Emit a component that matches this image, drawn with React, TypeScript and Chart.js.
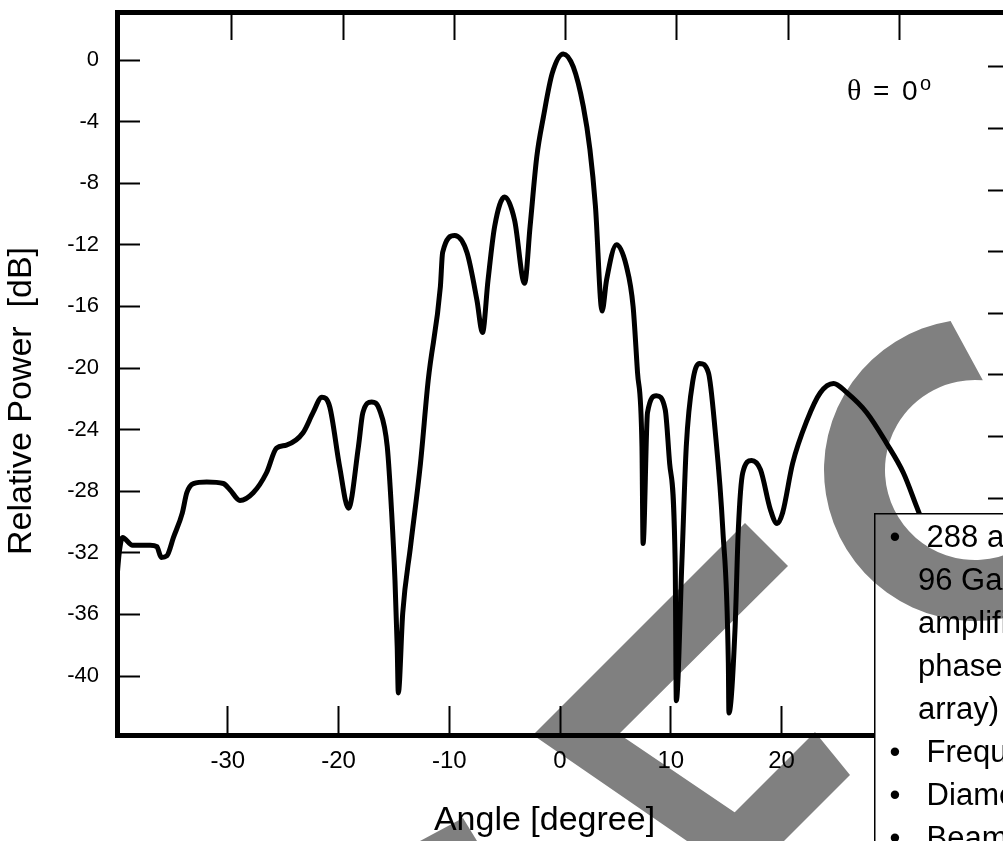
import React, { useEffect, useRef } from "react";
import { Chart, registerables } from "chart.js";

Chart.register(...registerables);

// ---- data ----
const angleDeg = [
  -40.0, -39.8, -39.5, -38.6, -37.0, -36.4, -36.0, -35.5, -34.9, -34.1,
  -33.7, -33.1, -31.9, -30.4, -29.8, -28.9, -27.7, -26.5, -25.6, -24.7,
  -23.2, -22.3, -21.5, -20.8, -19.9, -19.1, -18.2, -17.8, -17.0, -16.3,
  -15.6, -15.2, -14.9, -14.7, -14.6, -14.2, -13.5, -12.6, -11.9, -10.8,
  -10.6, -9.5, -8.4, -7.5, -7.0, -6.5, -5.9, -5.0, -4.1, -3.2,
  -2.7, -2.1, -1.5, -0.7, 0.3, 1.2, 2.1, 2.7, 3.2, 3.8,
  4.2, 5.1, 6.0, 6.6, 7.0, 7.4, 7.5, 7.9, 8.7, 9.5,
  9.9, 10.4, 10.5, 11.0, 11.4, 12.0, 12.6, 13.4, 14.0, 14.7,
  15.2, 15.25, 15.8, 16.1, 16.5, 17.3, 18.1, 19.0, 19.6, 20.1,
  21.0, 22.3, 23.5, 24.7, 25.9, 27.7, 29.5, 31.0, 32.2, 33.0,
];

const relPowerDb = [
  -33.6, -32.0, -31.0, -31.5, -31.5, -31.6, -32.3, -32.2, -31.0, -29.4,
  -28.1, -27.5, -27.4, -27.5, -27.9, -28.6, -28.1, -26.8, -25.2, -25.0,
  -24.2, -22.9, -21.9, -22.5, -26.4, -29.1, -25.1, -22.9, -22.2, -22.7,
  -25.1, -29.4, -33.8, -38.1, -41.1, -35.9, -31.6, -26.2, -20.8, -14.7,
  -12.5, -11.4, -12.5, -15.6, -17.7, -14.3, -10.8, -8.9, -10.4, -14.5,
  -10.8, -6.3, -3.7, -0.85, 0.4, -0.45, -3.0, -5.8, -9.5, -16.3,
  -14.3, -12.0, -13.4, -16.0, -20.3, -25.1, -31.4, -22.9, -21.8, -22.7,
  -26.2, -32.7, -41.6, -32.7, -25.1, -20.8, -19.7, -20.3, -24.0, -30.5,
  -39.2, -42.4, -37.0, -30.5, -26.8, -26.0, -26.6, -29.2, -30.1, -29.4,
  -26.2, -23.4, -21.6, -21.0, -21.6, -22.9, -24.9, -26.8, -29.0, -30.5,
];

const xTickValues = [-30, -20, -10, 0, 10, 20, 30];
const yTickValues = [0, -4, -8, -12, -16, -20, -24, -28, -32, -36, -40];

const yTitle = "Relative Power  [dB]";
const xTitle = "Angle [degree]";
const thetaSymbol = "\u03B8";
const thetaValue = "0";

const boxLines = [
  { bullet: true, text: " 288 active elements with" },
  { bullet: false, text: "96 GaAs MMIC power" },
  { bullet: false, text: "amplifiers and MMIC" },
  { bullet: false, text: "phase shifters (sub-" },
  { bullet: false, text: "array)" },
  { bullet: true, text: " Frequency: 19.45 GHz" },
  { bullet: true, text: " Diameter: 1 m" },
  { bullet: true, text: " Beam scanning" },
];

const W = 1025;
const H = 841;
const FONT = '"Liberation Sans", Arial, Helvetica, sans-serif';

const overlayPlugin = {
  id: "overlay",
  beforeDraw(chart: any) {
    const ctx = chart.ctx;
    ctx.save();
    ctx.fillStyle = "#ffffff";
    ctx.fillRect(0, 0, chart.width, chart.height);
    ctx.restore();
  },
  afterDraw(chart: any) {
    const ctx: CanvasRenderingContext2D = chart.ctx;
    ctx.save();
    ctx.fillStyle = "#000";

    // y axis title
    ctx.save();
    ctx.font = `34px ${FONT}`;
    ctx.textAlign = "center";
    ctx.textBaseline = "middle";
    ctx.translate(21.5, 401);
    ctx.rotate(-Math.PI / 2);
    ctx.fillText(yTitle, 0, 0);
    ctx.restore();

    // x axis title
    ctx.font = `34px ${FONT}`;
    ctx.textAlign = "center";
    ctx.textBaseline = "alphabetic";
    ctx.fillText(xTitle, 544.5, 830);

    // theta annotation
    ctx.textAlign = "left";
    ctx.font = `30px "Liberation Serif", "Times New Roman", serif`;
    ctx.fillText(thetaSymbol, 847, 100);
    ctx.font = `28px ${FONT}`;
    ctx.fillText("=", 873, 100);
    ctx.fillText(thetaValue, 902, 100);
    ctx.font = `20px ${FONT}`;
    ctx.fillText("o", 920, 90);

    // text box
    ctx.fillStyle = "#fff";
    ctx.fillRect(874, 513, W, H);
    ctx.strokeStyle = "#000";
    ctx.lineWidth = 1.5;
    ctx.strokeRect(874.75, 513.75, W, H);
    ctx.fillStyle = "#000";
    ctx.font = `31px ${FONT}`;
    boxLines.forEach((ln, i) => {
      const y = 547 + i * 43;
      if (ln.bullet) {
        ctx.textAlign = "center";
        ctx.fillText("\u2022", 895, y);
      }
      ctx.textAlign = "left";
      ctx.fillText(ln.text, 918, y);
    });

    // grey watermark shapes (multiplied over everything)
    const off = document.createElement("canvas");
    off.width = chart.width;
    off.height = chart.height;
    const o = off.getContext("2d")!;
    o.fillStyle = "#808080";
    const d = Math.PI / 180;
    const cx = 975, cy = 470, R = 151, r = 90;
    o.beginPath();
    o.arc(cx, cy, R, -99.3 * d, 30 * d, true);
    o.arc(cx, cy, r, 30 * d, -85 * d, false);
    o.closePath();
    o.fill();
    const polys = [
      [[745, 523], [788, 566], [619, 734], [777, 841], [687, 841], [533, 735]],
      [[815, 732], [850, 775], [784, 841], [706, 841]],
      [[463, 818], [477, 841], [420, 841]],
    ];
    polys.forEach((p) => {
      o.beginPath();
      o.moveTo(p[0][0], p[0][1]);
      for (let k = 1; k < p.length; k++) o.lineTo(p[k][0], p[k][1]);
      o.closePath();
      o.fill();
    });
    ctx.globalCompositeOperation = "multiply";
    ctx.drawImage(off, 0, 0);
    ctx.restore();
  },
};

const noPad = (s: any) => {
  s.paddingTop = 0;
  s.paddingBottom = 0;
  s.paddingLeft = 0;
  s.paddingRight = 0;
};

export default function App() {
  const ref = useRef<HTMLCanvasElement | null>(null);

  useEffect(() => {
    if (!ref.current) return;
    const points = angleDeg.map((a, i) => ({ x: a, y: relPowerDb[i] }));
    const tickGrid = (len: number) => ({
      display: true,
      drawOnChartArea: false,
      drawTicks: true,
      tickLength: len,
      tickWidth: 2,
      tickColor: "#000",
    });
    const border = { display: true, width: 5, color: "#000" };
    const chart = new Chart(ref.current, {
      type: "line",
      data: {
        datasets: [
          {
            data: points,
            xAxisID: "x",
            yAxisID: "y",
            borderColor: "#000",
            borderWidth: 5,
            pointRadius: 0,
            fill: false,
            cubicInterpolationMode: "monotone",
          } as any,
        ],
      },
      options: {
        animation: false,
        responsive: false,
        devicePixelRatio: 1,
        layout: { padding: 0 },
        plugins: { legend: { display: false }, tooltip: { enabled: false } },
        scales: {
          x: {
            type: "linear",
            axis: "x",
            position: "bottom",
            min: -40,
            max: 40.36,
            afterBuildTicks: (s: any) => {
              s.ticks = xTickValues.map((v) => ({ value: v }));
            },
            afterFit: (s: any) => {
              s.height = H - 735;
              noPad(s);
            },
            border,
            grid: tickGrid(-29),
            ticks: {
              padding: 41,
              color: "#000",
              autoSkip: false,
              maxRotation: 0,
              minRotation: 0,
              font: { family: FONT, size: 24 },
              callback: (v: any) => String(v),
            },
          },
          xTop: {
            type: "linear",
            axis: "x",
            position: "top",
            min: -40.31,
            max: 39.66,
            afterBuildTicks: (s: any) => {
              s.ticks = xTickValues.map((v) => ({ value: v }));
            },
            afterFit: (s: any) => {
              s.height = 12;
              noPad(s);
            },
            border,
            grid: tickGrid(-28),
            ticks: { display: false },
          },
          y: {
            type: "linear",
            axis: "y",
            position: "left",
            min: -43.83,
            max: 3.12,
            afterBuildTicks: (s: any) => {
              s.ticks = yTickValues.map((v) => ({ value: v }));
            },
            afterFit: (s: any) => {
              s.width = 117;
              noPad(s);
            },
            border,
            grid: tickGrid(-23),
            ticks: {
              padding: 41,
              color: "#000",
              autoSkip: false,
              font: { family: FONT, size: 22 },
              callback: (v: any) => String(v),
            },
          },
          yRight: {
            type: "linear",
            axis: "y",
            position: "right",
            min: -43.38,
            max: 3.57,
            afterBuildTicks: (s: any) => {
              s.ticks = yTickValues.map((v) => ({ value: v }));
            },
            afterFit: (s: any) => {
              s.width = W - 1007;
              noPad(s);
            },
            border,
            grid: tickGrid(-19),
            ticks: { display: false },
          },
        } as any,
      },
      plugins: [overlayPlugin as any],
    });
    return () => chart.destroy();
  }, []);

  return (
    <div
      style={{
        position: "fixed",
        left: 0,
        top: 0,
        width: 1003,
        height: 841,
        overflow: "hidden",
        background: "#fff",
      }}
    >
      <canvas ref={ref} width={W} height={H} style={{ display: "block", width: W, height: H }} />
    </div>
  );
}
